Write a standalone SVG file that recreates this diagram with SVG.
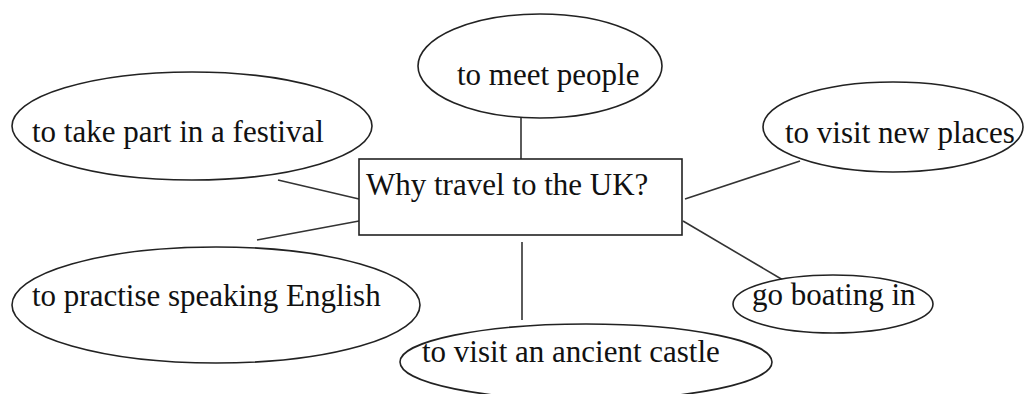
<svg xmlns="http://www.w3.org/2000/svg" width="1027" height="394" viewBox="0 0 1027 394">
<style>
.n{fill:#fff;stroke:#222;stroke-width:1.6}
.t{fill:#111}
.c line{stroke:#333;stroke-width:1.6}
</style>
<rect width="1027" height="394" fill="#fff"/>
<g class="c" id="connectors">
<line x1="521" y1="118" x2="521" y2="159"/>
<line x1="278" y1="180" x2="359" y2="199"/>
<line x1="257" y1="240" x2="359" y2="221"/>
<line x1="800" y1="161" x2="685" y2="199"/>
<line x1="683" y1="221" x2="783" y2="280"/>
<line x1="522" y1="242" x2="522" y2="320"/>
</g>
<g id="meet"><ellipse class="n" cx="540" cy="66" rx="122" ry="52"/><text class="t" font-family="Liberation Serif" font-size="31" x="457" y="85">to meet people</text></g>
<g id="festival"><ellipse class="n" cx="192" cy="126" rx="180" ry="54"/><text class="t" font-family="Liberation Serif" font-size="31" x="32" y="142">to take part in a festival</text></g>
<g id="places"><ellipse class="n" cx="893" cy="127" rx="130" ry="45"/><text class="t" font-family="Liberation Serif" font-size="31" x="785" y="143">to visit new places</text></g>
<g id="center"><rect class="n" x="359" y="159" width="323" height="76"/><text class="t" font-family="Liberation Serif" font-size="31" x="366" y="195">Why travel to the UK?</text></g>
<g id="practise"><ellipse class="n" cx="216" cy="305" rx="204" ry="58"/><text class="t" font-family="Liberation Serif" font-size="31" x="32" y="306">to practise speaking English</text></g>
<g id="castle"><ellipse class="n" cx="586" cy="362" rx="186" ry="38"/><text class="t" font-family="Liberation Serif" font-size="31" x="422" y="362">to visit an ancient castle</text></g>
<g id="boating"><ellipse class="n" cx="833" cy="304" rx="100" ry="29"/><text class="t" font-family="Liberation Serif" font-size="31" x="752" y="305">go boating in</text></g>
</svg>
